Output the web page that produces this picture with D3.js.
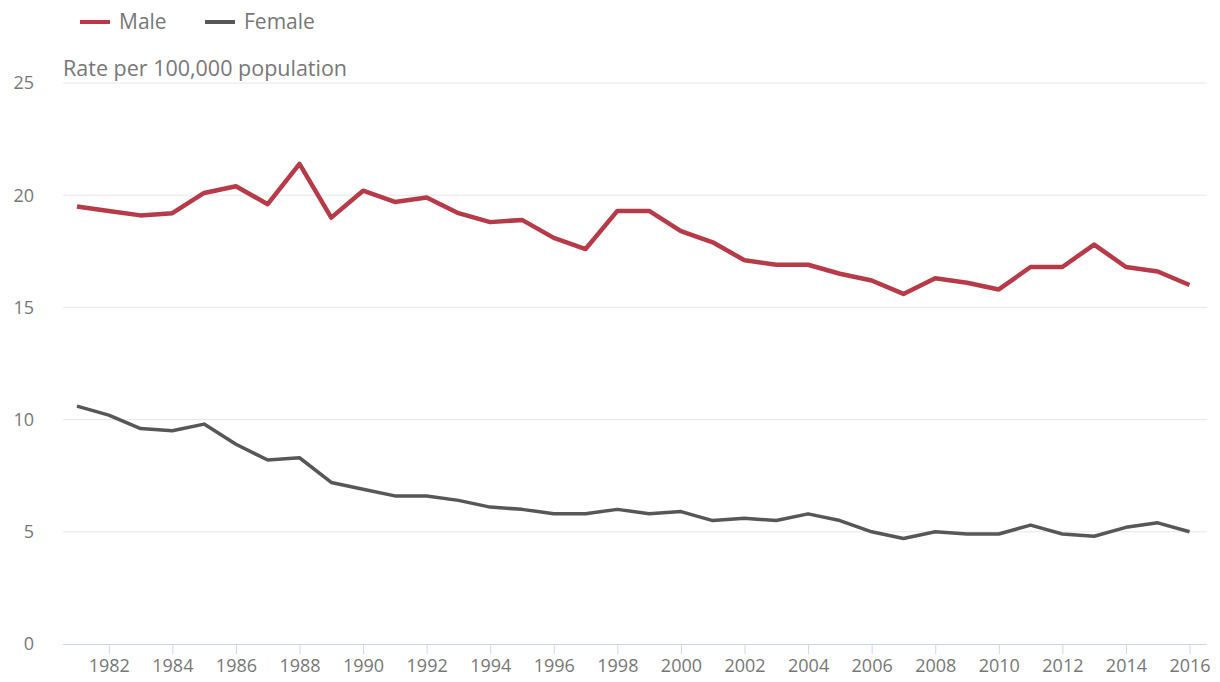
<!DOCTYPE html>
<html lang="en">
<head>
    <meta charset="UTF-8">
    <title>Rate per 100,000 population, Male and Female</title>
    <script src="https://d3js.org/d3.v7.min.js"></script>
    <style>
        body { margin: 0; background: #fff; }
        text { font-family: "Open Sans", sans-serif; fill: #777; }
    </style>
</head>
<body>
    <svg id="line-chart"></svg>
    <script>
        var years = d3.range(1981, 2017);
        var male = [19.5, 19.3, 19.1, 19.2, 20.1, 20.4, 19.6, 21.4, 19.0, 20.2,
                    19.7, 19.9, 19.2, 18.8, 18.9, 18.1, 17.6, 19.3, 19.3, 18.4,
                    17.9, 17.1, 16.9, 16.9, 16.5, 16.2, 15.6, 16.3, 16.1, 15.8,
                    16.8, 16.8, 17.8, 16.8, 16.6, 16.0];
        var female = [10.6, 10.2, 9.6, 9.5, 9.8, 8.9, 8.2, 8.3, 7.2, 6.9,
                      6.6, 6.6, 6.4, 6.1, 6.0, 5.8, 5.8, 6.0, 5.8, 5.9,
                      5.5, 5.6, 5.5, 5.8, 5.5, 5.0, 4.7, 5.0, 4.9, 4.9,
                      5.3, 4.9, 4.8, 5.2, 5.4, 5.0];
        var yTicks = [0, 5, 10, 15, 20, 25];
        var xTicks = d3.range(1982, 2017, 2);

        var series = [
            { name: "Male", values: male, color: "#b63a48", width: 4.5 },
            { name: "Female", values: female, color: "#575757", width: 3.5 }
        ];

        var W = 1220, H = 682;
        var margin = { left: 63, right: 1207, top: 83, bottom: 644 };

        var svg = d3.select("#line-chart")
                    .attr("width", W)
                    .attr("height", H);

        var xScale = d3.scaleLinear()
                       .domain([1980.56, 2016.55])
                       .range([margin.left, margin.right]);

        var yScale = d3.scaleLinear()
                       .domain([0, 25])
                       .range([margin.bottom, margin.top]);

        // gridlines
        svg.append("g")
           .selectAll("line")
           .data(yTicks.filter(function(d) { return d > 0; }))
           .join("line")
           .attr("x1", margin.left)
           .attr("x2", margin.right)
           .attr("y1", function(d) { return yScale(d); })
           .attr("y2", function(d) { return yScale(d); })
           .attr("stroke", "#e6e6e6")
           .attr("stroke-width", 1);

        // y labels
        svg.append("g")
           .selectAll("text")
           .data(yTicks)
           .join("text")
           .attr("x", 34)
           .attr("y", function(d) { return yScale(d); })
           .attr("dy", "0.35em")
           .attr("text-anchor", "end")
           .attr("font-size", "18px")
           .text(function(d) { return d; });

        // x axis
        var xAxis = svg.append("g")
           .attr("transform", "translate(0," + margin.bottom + ")")
           .call(d3.axisBottom(xScale).tickValues(xTicks).tickFormat(d3.format("d")).tickSize(10).tickPadding(5));
        xAxis.select(".domain").attr("stroke", "#ccd6eb").attr("d", "M" + margin.left + ",0.5H" + margin.right);
        xAxis.selectAll(".tick line").attr("stroke", "#ccd6eb");
        xAxis.selectAll(".tick text")
             .attr("font-size", "18px")
             .attr("fill", "#777")
             .style("font-family", "\"Open Sans\", sans-serif");

        // axis title
        svg.append("text")
           .attr("x", margin.left)
           .attr("y", 76)
           .attr("font-size", "21.5px")
           .text("Rate per 100,000 population");

        var line = d3.line()
                     .x(function(d, i) { return xScale(years[i]); })
                     .y(function(d) { return yScale(d); });

        series.forEach(function(s) {
            svg.append("path")
               .datum(s.values)
               .attr("fill", "none")
               .attr("stroke", s.color)
               .attr("stroke-width", s.width)
               .attr("stroke-linejoin", "round")
               .attr("d", line);
        });

        // legend
        var legend = svg.append("g")
                        .attr("transform", "translate(80,22)");
        var offsets = [0, 125];
        series.forEach(function(s, i) {
            legend.append("line")
                  .attr("x1", offsets[i])
                  .attr("x2", offsets[i] + 30)
                  .attr("y1", 0)
                  .attr("y2", 0)
                  .attr("stroke", s.color)
                  .attr("stroke-width", 4);
            legend.append("text")
                  .attr("x", offsets[i] + 39)
                  .attr("y", 0)
                  .attr("dy", "0.35em")
                  .attr("font-size", "21px")
                  .text(s.name);
        });
    </script>
</body>
</html>
